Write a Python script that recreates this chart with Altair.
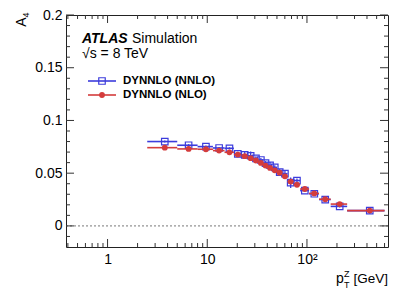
import altair as alt
import pandas as pd

# ---- data ----
edges = [2.5, 5, 8, 11.4, 14.9, 18.5, 22, 25.5, 29, 32.6, 36.4, 40.4, 44.9,
         50.2, 56.4, 63.9, 73.4, 85.4, 105, 132, 173, 253, 600]
nnlo = [0.0800, 0.0765, 0.0752, 0.0739, 0.0736, 0.0683, 0.0673, 0.0665, 0.0640,
        0.0625, 0.0595, 0.0575, 0.0555, 0.0510, 0.0495, 0.0410, 0.0430, 0.0335,
        0.0305, 0.0250, 0.0185, 0.0145]
nnlo_err = [0.001, 0.001, 0.001, 0.001, 0.001, 0.002, 0.003, 0.004, 0.002, 0.002,
            0.002, 0.003, 0.002, 0.003, 0.003, 0.005, 0.002, 0.001, 0.001, 0.001,
            0.001, 0.003]
nlo = [0.0742, 0.0730, 0.0727, 0.0714, 0.0698, 0.0676, 0.0661, 0.0642, 0.0620,
       0.0597, 0.0572, 0.0550, 0.0527, 0.0505, 0.0470, 0.0420, 0.0390, 0.0350,
       0.0308, 0.0253, 0.0207, 0.0145]
nlo_err = [0.0005] * 22

x_major = [1, 10, 100]
x_minor = [0.4, 0.5, 0.6, 0.7, 0.8, 0.9, 2, 3, 4, 5, 6, 7, 8, 9,
           20, 30, 40, 50, 60, 70, 80, 90, 200, 300, 400, 500, 600]
y_major = [0, 0.05, 0.1, 0.15, 0.2]
y_minor = [-0.01, 0.01, 0.02, 0.03, 0.04, 0.06, 0.07, 0.08, 0.09, 0.11, 0.12,
           0.13, 0.14, 0.16, 0.17, 0.18, 0.19]

BLUE = "#3c3cdc"
RED = "#d43c3c"
FONT = "Liberation Sans"
W, H = 322, 232

lo = edges[:-1]
hi = edges[1:]
cen = [(a + b) / 2 for a, b in zip(lo, hi)]


def frame(vals, errs):
    return pd.DataFrame({
        "lo": lo, "hi": hi, "x": cen, "y": vals,
        "ylo": [v - e for v, e in zip(vals, errs)],
        "yhi": [v + e for v, e in zip(vals, errs)],
    })


d_nnlo = frame(nnlo, nnlo_err)
d_nlo = frame(nlo, nlo_err)

xs = alt.Scale(type="log", domain=[0.383, 650], nice=False)
ys = alt.Scale(domain=[-0.02, 0.2], nice=False, zero=False)

xaxis = alt.Axis(values=x_major, ticks=False, domain=False, grid=False,
                 labelExpr="datum.value >= 100 ? '10²' : format(datum.value, 'd')",
                 labelFont=FONT, labelFontSize=14, labelColor="black",
                 labelPadding=5, title="", labelFlush=False)
yaxis = alt.Axis(values=y_major, ticks=False, domain=False, grid=False,
                 format="~g", labelFont=FONT, labelFontSize=14,
                 labelColor="black", labelPadding=4, title="")


def X(f):
    return alt.X(f, type="quantitative", scale=xs, axis=xaxis)


def Y(f):
    return alt.Y(f, type="quantitative", scale=ys, axis=yaxis)


layers = []


def series(d, color, shape, filled, size):
    out = []
    out.append(alt.Chart(d).mark_rule(color=color, strokeWidth=1.6)
               .encode(x=X("lo"), x2="hi", y=Y("y")))
    out.append(alt.Chart(d).mark_rule(color=color, strokeWidth=1.3)
               .encode(x=X("x"), y=Y("ylo"), y2="yhi"))
    out.append(alt.Chart(d).mark_point(shape=shape, filled=filled, size=size,
                                       color=color, strokeWidth=1.2, opacity=1)
               .encode(x=X("x"), y=Y("y")))
    return out


layers += series(d_nnlo, BLUE, "square", False, 42)

# zero line
zero = pd.DataFrame({"y": [0.0]})
layers.append(alt.Chart(zero).mark_rule(color="#555", strokeDash=[2, 2], strokeWidth=0.8)
              .encode(y=Y("y"), x=alt.value(0), x2=alt.value(W)))

layers += series(d_nlo, RED, "circle", True, 34)

# inward ticks
xmaj = pd.DataFrame({"x": x_major})
xmin = pd.DataFrame({"x": x_minor})
ymaj = pd.DataFrame({"y": y_major})
ymin = pd.DataFrame({"y": y_minor})
TC = "#333"
for d, ln in [(xmaj, 8), (xmin, 4)]:
    layers.append(alt.Chart(d).mark_rule(color=TC, strokeWidth=1)
                  .encode(x=X("x"), y=alt.value(H), y2=alt.value(H - ln)))
    layers.append(alt.Chart(d).mark_rule(color=TC, strokeWidth=1)
                  .encode(x=X("x"), y=alt.value(0), y2=alt.value(ln)))
for d, ln in [(ymaj, 8), (ymin, 4)]:
    layers.append(alt.Chart(d).mark_rule(color=TC, strokeWidth=1)
                  .encode(y=Y("y"), x=alt.value(0), x2=alt.value(ln)))
    layers.append(alt.Chart(d).mark_rule(color=TC, strokeWidth=1)
                  .encode(y=Y("y"), x=alt.value(W), x2=alt.value(W - ln)))


def text(t, x, y, size=14, weight="normal", style="normal", align="left",
         baseline="alphabetic", angle=0):
    return (alt.Chart(pd.DataFrame({"t": [t]}))
            .mark_text(font=FONT, fontSize=size, fontWeight=weight,
                       fontStyle=style, align=align, baseline=baseline,
                       angle=angle, color="black")
            .encode(text="t:N", x=alt.value(x), y=alt.value(y)))


layers.append(text("ATLAS", 16, 28, 14, "bold", "italic"))
layers.append(text("Simulation", 66, 28, 14))
layers.append(text("√s = 8 TeV", 16, 43, 14))

# legend
leg = [("DYNNLO (NNLO)", BLUE, "square", False, 66),
       ("DYNNLO (NLO)", RED, "circle", True, 80)]
for lab, col, shp, fil, yy in leg:
    one = pd.DataFrame({"t": [lab]})
    layers.append(alt.Chart(one).mark_rule(color=col, strokeWidth=1.6)
                  .encode(x=alt.value(22), x2=alt.value(50), y=alt.value(yy)))
    layers.append(alt.Chart(one).mark_point(shape=shp, filled=fil, size=42 if shp == "square" else 34,
                                            color=col, strokeWidth=1.2, opacity=1)
                  .encode(x=alt.value(36), y=alt.value(yy)))
    layers.append(text(lab, 57, yy, 11.5, "bold", baseline="middle"))

# axis titles
layers.append(text("p", 270, 268, 14))
layers.append(text("Z", 278, 262, 9))
layers.append(text("T", 278, 273, 9))
layers.append(text("[GeV]", W, 268, 13.5, align="right"))
layers.append(text("A", -40, 7, 14, align="center", angle=270))
layers.append(text("4", -37, 0, 9, align="center", angle=270))

chart = (alt.layer(*layers)
         .properties(width=W, height=H,
                     autosize=alt.AutoSizeParams(type="none"),
                     padding={"left": 58, "top": 7, "right": 13, "bottom": 47})
         .configure_view(stroke="#222", strokeWidth=1))

chart.save("out.html", embed_options={"renderer": "svg", "actions": False})
